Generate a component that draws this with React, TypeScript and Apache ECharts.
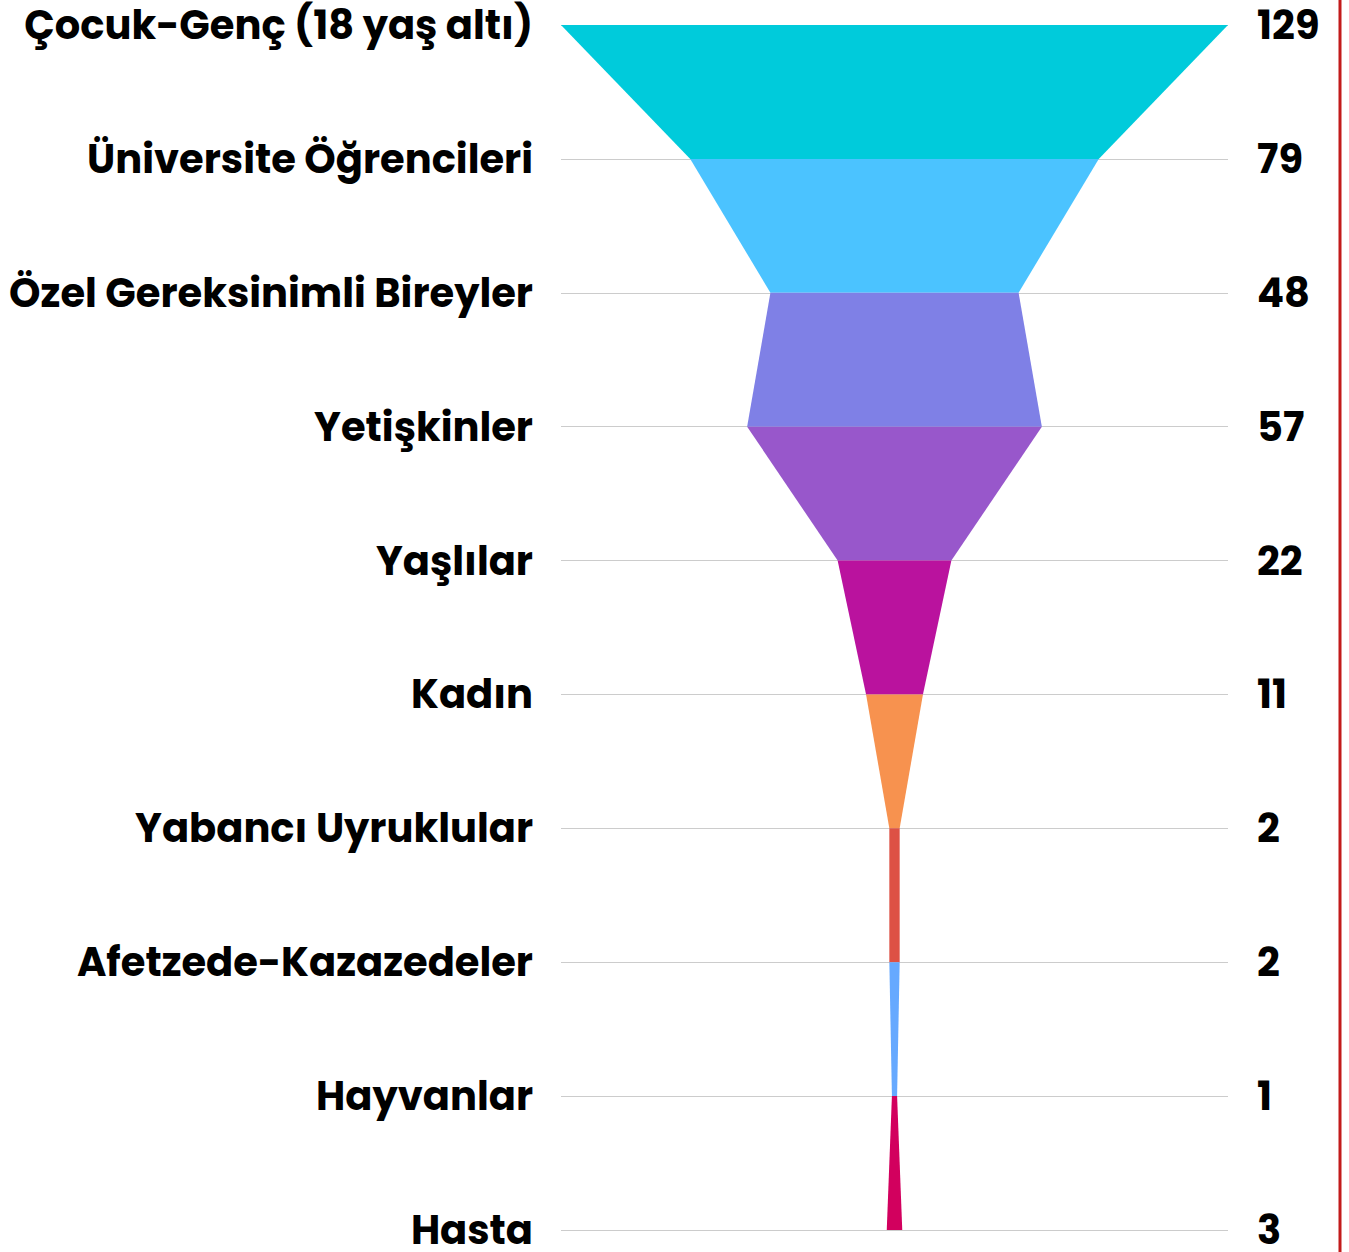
import React, { useEffect, useRef } from "react";
import * as echarts from "echarts";

const categories = [
  "Çocuk-Genç (18 yaş altı)",
  "Üniversite Öğrencileri",
  "Özel Gereksinimli Bireyler",
  "Yetişkinler",
  "Yaşlılar",
  "Kadın",
  "Yabancı Uyruklular",
  "Afetzede-Kazazedeler",
  "Hayvanlar",
  "Hasta",
];
const values = [129, 79, 48, 57, 22, 11, 2, 2, 1, 3];
const segmentColors = [
  "#00CBDB",
  "#4BC3FF",
  "#7F80E6",
  "#9857CB",
  "#BA129E",
  "#F7924F",
  "#DD5145",
  "#66A9FF",
  "#D2005E",
];

const FONT = "Poppins, 'Noto Sans', sans-serif";

export default function App() {
  const ref = useRef<HTMLDivElement>(null);
  useEffect(() => {
    if (!ref.current) return;
    const chart = echarts.init(ref.current, null, { renderer: "svg" });
    const maxV = Math.max(...values);
    const segData = segmentColors.map((_, i) => [0, i]);
    chart.setOption({
      animation: false,
      grid: { left: 561, right: 121, top: 25, bottom: 22 },
      xAxis: {
        type: "value",
        min: -maxV / 2,
        max: maxV / 2,
        show: false,
      },
      yAxis: [
        {
          type: "category",
          data: categories,
          inverse: true,
          boundaryGap: false,
          axisLine: { show: false },
          axisTick: { show: false },
          splitLine: { show: true, lineStyle: { color: "#cccccc", width: 1 } },
          axisLabel: {
            margin: 28,
            fontSize: 40,
            fontWeight: "bold",
            fontFamily: FONT,
            color: "#000",
            lineHeight: 40,
          },
        },
        {
          type: "category",
          position: "right",
          data: values.map(String),
          inverse: true,
          boundaryGap: false,
          axisLine: { show: false },
          axisTick: { show: false },
          splitLine: { show: false },
          axisLabel: {
            margin: 29,
            fontSize: 40,
            fontWeight: "bold",
            fontFamily: FONT,
            color: "#000",
            lineHeight: 40,
            padding: [4, 0, 0, 0],
          },
        },
      ],
      series: [
        {
          type: "custom",
          yAxisIndex: 0,
          encode: { x: 0, y: 1 },
          data: segData,
          renderItem: (params: any, api: any) => {
            const i = params.dataIndex;
            const v0 = values[i];
            const v1 = values[i + 1];
            const p1 = api.coord([-v0 / 2, i]);
            const p2 = api.coord([v0 / 2, i]);
            const p3 = api.coord([v1 / 2, i + 1]);
            const p4 = api.coord([-v1 / 2, i + 1]);
            return {
              type: "polygon",
              shape: { points: [p1, p2, p3, p4] },
              style: { fill: segmentColors[i] },
            };
          },
        },
      ],
      graphic: [
        {
          type: "line",
          shape: { x1: 1340, y1: 0, x2: 1340, y2: 1252 },
          style: { stroke: "#C21B1B", lineWidth: 3 },
        },
      ],
    });
    return () => chart.dispose();
  }, []);
  return (
    <div
      ref={ref}
      style={{ position: "fixed", left: 0, top: 0, width: 1349, height: 1252, background: "#fff" }}
    />
  );
}
